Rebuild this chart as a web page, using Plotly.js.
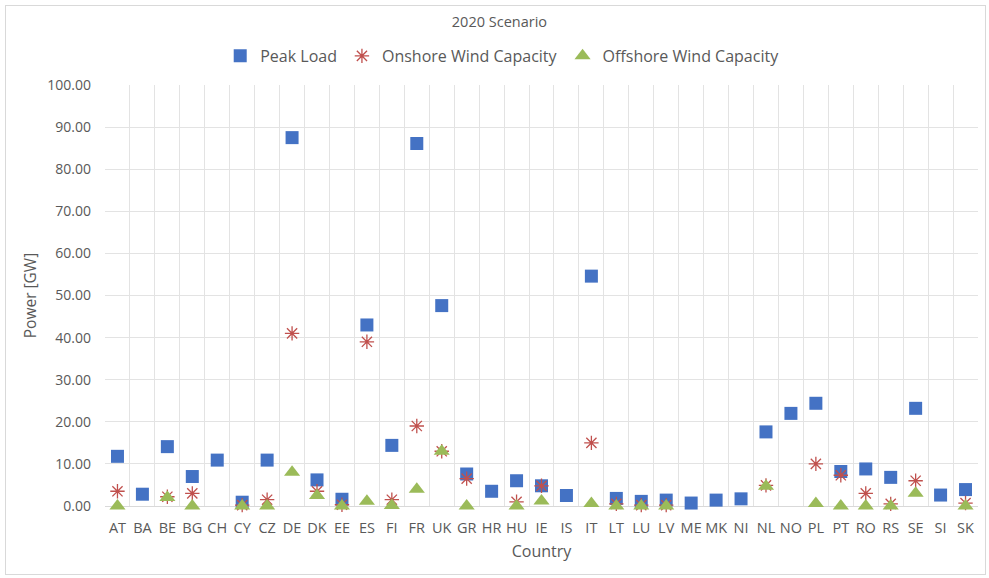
<!DOCTYPE html>
<html>
<head>
<meta charset="utf-8">
<script src="https://cdn.plot.ly/plotly-3.0.1.min.js"></script>
<style>
  html, body { margin: 0; padding: 0; background: #fff; }
  #wrap { position: relative; width: 989px; height: 578px; }
  #chart { position: absolute; left: 0; top: 0; width: 989px; height: 578px; }
  #frame { position: absolute; left: 5px; top: 5px; width: 979px; height: 568px; border: 1px solid #d9d9d9; pointer-events: none; }
</style>
</head>
<body>
<div id="wrap"><div id="chart"></div><div id="frame"></div></div>
<script>
const countries = ["AT","BA","BE","BG","CH","CY","CZ","DE","DK","EE","ES","FI","FR","UK","GR","HR","HU","IE","IS","IT","LT","LU","LV","ME","MK","NI","NL","NO","PL","PT","RO","RS","SE","SI","SK"];
const peakLoad = [11.8,2.8,14.1,7.0,10.9,0.9,10.9,87.5,6.2,1.6,43.0,14.4,86.1,47.6,7.6,3.5,6.0,4.8,2.5,54.6,1.8,1.1,1.4,0.7,1.4,1.7,17.6,22.0,24.4,8.2,8.8,6.8,23.2,2.6,3.9];
const onshore = [3.5,null,2.2,3.0,null,0.2,1.5,41.0,3.5,0.3,39.0,1.5,19.0,13.0,6.5,null,1.0,4.8,null,15.0,0.5,0.2,0.2,null,null,null,4.9,null,10.0,7.3,3.0,0.5,6.0,null,0.7];
const offshore = [0,null,2.0,0,null,0,0,8.0,2.5,0,1.1,0.1,4.0,13.0,0,null,0,1.2,null,0.6,0,0,0,null,null,null,4.7,null,0.6,0,0,0,3.0,null,0];
const yTicks = [0,10,20,30,40,50,60,70,80,90,100];

const traces = [
  {x: countries, y: peakLoad, name: "Peak Load", type: "scatter", mode: "markers", cliponaxis: false,
   marker: {symbol: "square", size: 13, color: "#4472C4"}},
  {x: countries, y: onshore, name: "Onshore Wind Capacity", type: "scatter", mode: "markers", cliponaxis: false,
   marker: {symbol: "asterisk-open", size: 12, color: "#C0504D", line: {color: "#C0504D", width: 1.3}}},
  {x: countries, y: offshore, name: "Offshore Wind Capacity", type: "scatter", mode: "markers", cliponaxis: false,
   marker: {symbol: "triangle-up", size: 14, color: "#9BBB59"}}
];

const font = "Open Sans, Noto Sans, sans-serif";
const layout = {
  width: 989, height: 578,
  margin: {l: 105, r: 11, t: 85, b: 72},
  paper_bgcolor: "#ffffff", plot_bgcolor: "#ffffff",
  font: {family: font, color: "#595959", size: 13},
  title: {text: "2020 Scenario", font: {family: font, size: 14.5, color: "#595959"}, x: 0.505, xanchor: "center", y: 0.962, yanchor: "middle"},
  showlegend: true,
  legend: {orientation: "h", x: 0.455, xanchor: "center", y: 1.069, yanchor: "middle",
           font: {family: font, size: 16, color: "#595959"}, itemwidth: 30, tracegroupgap: 0},
  xaxis: {type: "category", categoryorder: "array", categoryarray: countries,
          tickson: "boundaries", ticks: "", showgrid: true, gridcolor: "#e3e3e3", gridwidth: 1,
          tickangle: 0, ticklabelstandoff: 9, layer: "below traces",
          showline: true, linecolor: "#d9d9d9", tickfont: {family: font, size: 14.5, color: "#595959"},
          title: {text: "Country", font: {family: font, size: 16, color: "#595959"}, standoff: 9},
          range: [-0.5, countries.length - 0.5], fixedrange: true},
  yaxis: {range: [0, 100], tickvals: yTicks, tickformat: ".2f", showgrid: true, gridcolor: "#e3e3e3",
          zeroline: false, showline: false, ticks: "", ticklen: 0, ticklabelstandoff: 13, layer: "below traces",
          tickfont: {family: font, size: 14, color: "#595959"},
          title: {text: "Power [GW]", font: {family: font, size: 15.5, color: "#595959"}, standoff: 6},
          fixedrange: true}
};

Plotly.newPlot("chart", traces, layout, {displayModeBar: false, staticPlot: true});
</script>
</body>
</html>
